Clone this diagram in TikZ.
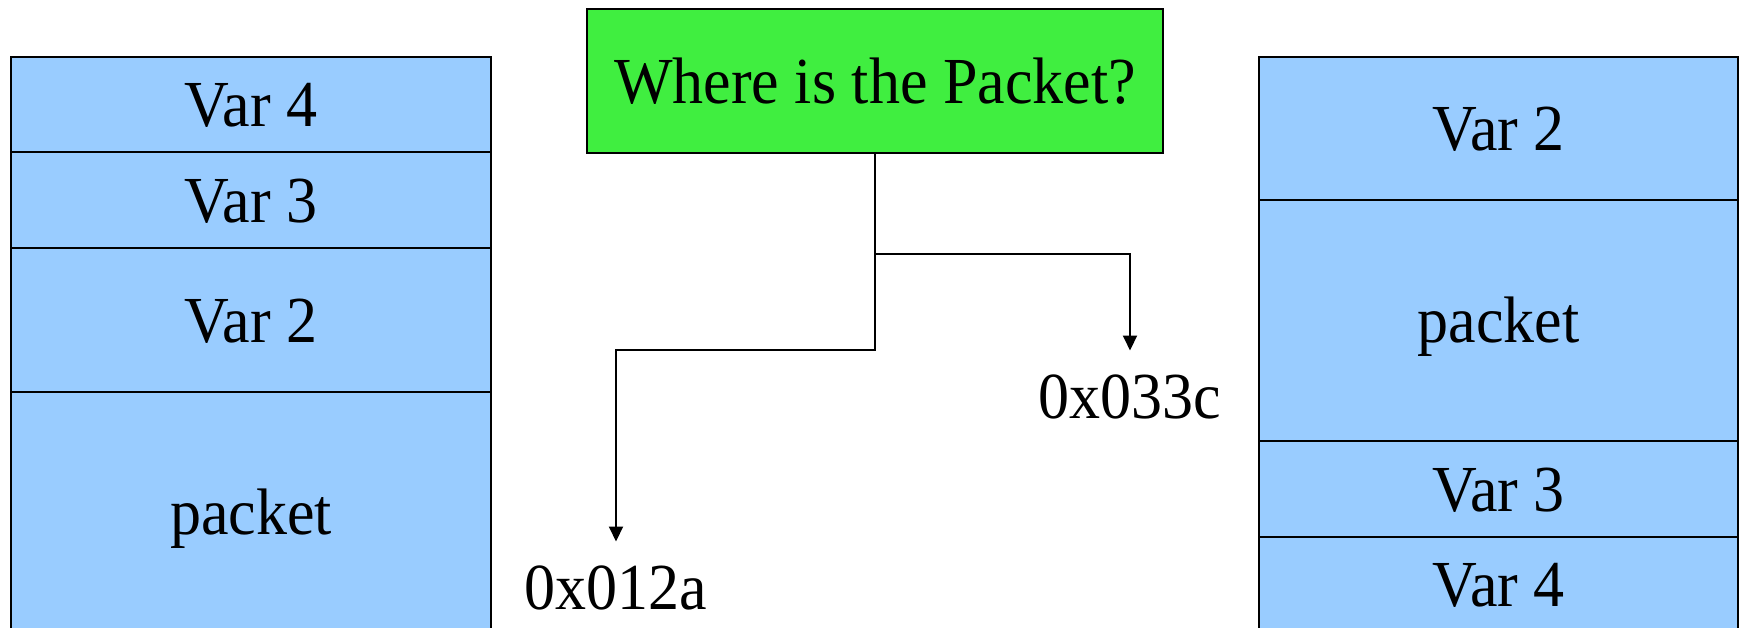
\documentclass[tikz,border=0pt]{standalone}
\usepackage{fontspec}
\setmainfont{Liberation Serif}
\usetikzlibrary{arrows.meta}
\definecolor{cellblue}{RGB}{153,204,255}
\definecolor{qgreen}{RGB}{64,238,64}
% slightly taller lettering
\newcommand{\tall}[1]{\scalebox{1}[1.06]{#1}}
\tikzset{
  cell/.style={draw=black, line width=2pt, fill=cellblue, rectangle,
    inner sep=0pt, text height=44.8pt, text depth=0pt,
    font=\fontsize{62}{70}\selectfont},
  question/.style={draw=black, line width=2pt, fill=qgreen, rectangle,
    inner sep=0pt, minimum width=576pt, minimum height=144pt,
    text height=44.8pt, text depth=0pt,
    font=\fontsize{62}{70}\selectfont},
  addr/.style={inner xsep=0pt, inner ysep=22.5pt, text height=44.8pt,
    text depth=0pt, anchor=base, font=\fontsize{62}{70}\selectfont},
  link/.style={line width=2pt, -{Triangle[length=15pt,width=14pt]}}
}
\begin{document}
\begin{tikzpicture}[x=1pt, y=-1pt]
\useasboundingbox (0,0) rectangle (1739,628);

% left memory layout
\node[cell, minimum width=480pt, minimum height=95pt]  (l4) at (251,104.5) {\tall{Var 4}};
\node[cell, minimum width=480pt, minimum height=96pt]  (l3) at (251,200)   {\tall{Var 3}};
\node[cell, minimum width=480pt, minimum height=144pt] (l2) at (251,320)   {\tall{Var 2}};
\node[cell, minimum width=480pt, minimum height=240pt] (lp) at (251,512)   {\tall{packet}};

% right memory layout
\node[cell, minimum width=479pt, minimum height=143pt] (r2) at (1498.5,128.5) {\tall{Var 2}};
\node[cell, minimum width=479pt, minimum height=241pt] (rp) at (1498.5,320.5) {\tall{packet}};
\node[cell, minimum width=479pt, minimum height=96pt]  (r3) at (1498.5,489)   {\tall{Var 3}};
\node[cell, minimum width=479pt, minimum height=95pt]  (r4) at (1498.5,584.5) {\tall{Var 4}};

% question and the two candidate addresses
\node[question] (q) at (875,81) {\tall{Where is the Packet?}};
\node[addr] (a1) at (616,609) {\tall{0x012a}};
\node[addr] (a2) at (1130,418) {\tall{0x033c}};

% connectors
\draw[link] (q.south) -- ++(0,196) -| (a1.north);
\draw[link] (q.south) ++(0,100) -| (a2.north);
\end{tikzpicture}
\end{document}
